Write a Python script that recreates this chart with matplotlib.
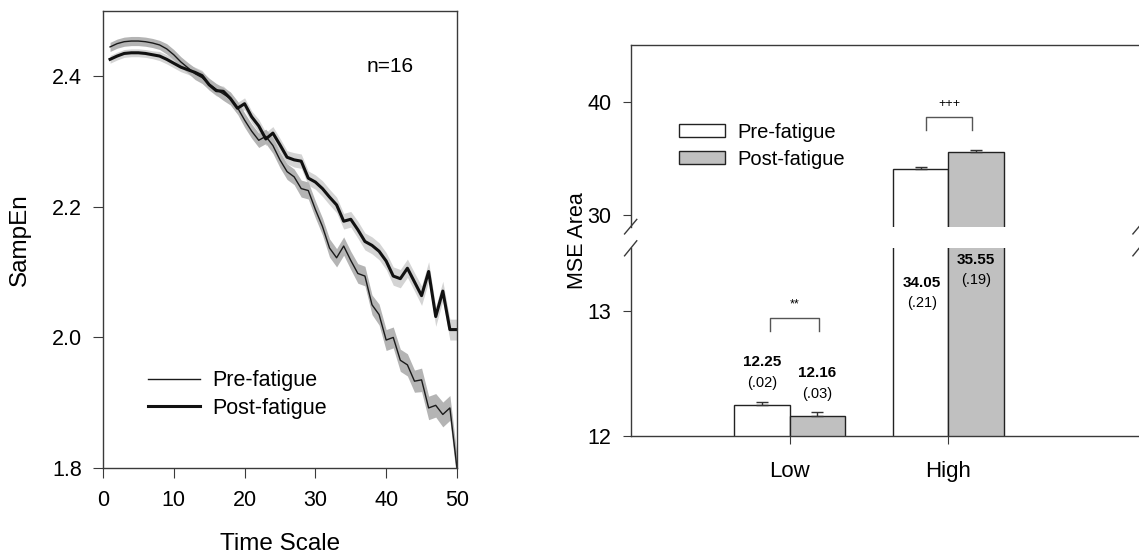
import numpy as np
import matplotlib
matplotlib.use("Agg")
import matplotlib.pyplot as plt

plt.rcParams['font.family'] = ['Liberation Sans', 'DejaVu Sans']

# ---- left panel data: SampEn vs time scale ----
time_scale = list(range(1, 51))
pre_sampen = [2.445, 2.450, 2.453, 2.454, 2.454, 2.453, 2.451, 2.448, 2.442, 2.433,
              2.422, 2.413, 2.404, 2.398, 2.388, 2.380, 2.373, 2.366, 2.352, 2.333,
              2.316, 2.302, 2.308, 2.294, 2.272, 2.254, 2.246, 2.228, 2.225, 2.196,
              2.170, 2.137, 2.122, 2.140, 2.118, 2.098, 2.094, 2.050, 2.035, 1.996,
              2.000, 1.965, 1.958, 1.933, 1.935, 1.892, 1.896, 1.882, 1.892, 1.800]
post_sampen = [2.426, 2.431, 2.435, 2.436, 2.436, 2.435, 2.433, 2.431, 2.426, 2.420,
               2.414, 2.410, 2.406, 2.401, 2.387, 2.378, 2.377, 2.366, 2.351, 2.358,
               2.338, 2.324, 2.304, 2.313, 2.295, 2.276, 2.272, 2.270, 2.244, 2.238,
               2.228, 2.215, 2.203, 2.178, 2.181, 2.165, 2.147, 2.141, 2.132, 2.117,
               2.094, 2.090, 2.106, 2.085, 2.064, 2.101, 2.032, 2.071, 2.012, 2.012]
pre_se = [0.007, 0.007, 0.007, 0.007, 0.007, 0.007, 0.007, 0.007, 0.008, 0.008,
          0.008, 0.008, 0.009, 0.009, 0.009, 0.009, 0.010, 0.010, 0.010, 0.011,
          0.011, 0.011, 0.011, 0.012, 0.012, 0.012, 0.012, 0.013, 0.013, 0.013,
          0.013, 0.014, 0.014, 0.014, 0.014, 0.015, 0.015, 0.015, 0.016, 0.016,
          0.016, 0.017, 0.017, 0.017, 0.018, 0.018, 0.018, 0.019, 0.019, 0.020]
post_se = [0.006, 0.006, 0.006, 0.006, 0.006, 0.006, 0.006, 0.007, 0.007, 0.007,
           0.007, 0.007, 0.008, 0.008, 0.008, 0.008, 0.008, 0.009, 0.009, 0.009,
           0.009, 0.010, 0.010, 0.010, 0.010, 0.010, 0.011, 0.011, 0.011, 0.011,
           0.012, 0.012, 0.012, 0.012, 0.012, 0.013, 0.013, 0.013, 0.013, 0.013,
           0.014, 0.014, 0.014, 0.014, 0.015, 0.015, 0.015, 0.015, 0.016, 0.016]

# ---- right panel data: MSE area ----
categories = ['Low', 'High']
pre_area = [12.25, 34.05]
post_area = [12.16, 35.55]
pre_area_se = [0.02, 0.21]
post_area_se = [0.03, 0.19]

spine_c = '#3a3a3a'
tick_fs = 15.5
label_fs = 17.5

fig = plt.figure(figsize=(11.39, 5.59), dpi=100)

# ================= left panel =================
ax = fig.add_axes([0.0904, 0.1628, 0.3108, 0.8175])
t = np.array(time_scale)
pre = np.array(pre_sampen)
post = np.array(post_sampen)
ax.fill_between(t, post - np.array(post_se), post + np.array(post_se),
                color='#d4d4d4', lw=0)
ax.fill_between(t, pre - np.array(pre_se), pre + np.array(pre_se),
                color='#b4b4b4', lw=0)
ax.plot(t, pre, color='#1a1a1a', lw=1.0, label='Pre-fatigue')
ax.plot(t, post, color='#111111', lw=2.2, label='Post-fatigue')
ax.set_xlim(0, 50)
ax.set_ylim(1.8, 2.5)
ax.set_xticks([0, 10, 20, 30, 40, 50])
ax.set_yticks([1.8, 2.0, 2.2, 2.4])
ax.set_yticklabels(['1.8', '2.0', '2.2', '2.4'])
for s in ax.spines.values():
    s.set_color(spine_c)
    s.set_linewidth(1.0)
ax.tick_params(axis='x', direction='out', length=7, pad=9, labelsize=tick_fs, color=spine_c)
ax.tick_params(axis='y', direction='out', length=7, pad=8, labelsize=tick_fs, color=spine_c)
ax.set_xlabel('Time Scale', fontsize=label_fs, labelpad=16)
ax.set_ylabel('SampEn', fontsize=label_fs, labelpad=15)
ax.text(0.81, 0.878, 'n=16', transform=ax.transAxes, fontsize=15,
        ha='center', va='center')
ax.legend(loc='upper left', bbox_to_anchor=(0.127, 0.214), frameon=False,
          fontsize=15.5, handlelength=2.4, handletextpad=0.6, labelspacing=0.3,
          borderpad=0, borderaxespad=0)

# ================= right panel (broken axis) =================
x = np.arange(len(categories))
w = 0.35
ax_top = fig.add_axes([0.5537, 0.5945, 0.4463, 0.3250])
ax_bot = fig.add_axes([0.5537, 0.2200, 0.4463, 0.3358])

for a in (ax_top, ax_bot):
    a.bar(x - w / 2, pre_area, w, color='white', edgecolor='#222222', lw=1.0,
          label='Pre-fatigue', zorder=2)
    a.bar(x + w / 2, post_area, w, color='#c0c0c0', edgecolor='#222222', lw=1.0,
          label='Post-fatigue', zorder=2)
    a.errorbar(x - w / 2, pre_area, yerr=[[0, 0], pre_area_se], fmt='none',
               ecolor='#333333', elinewidth=1.0, capsize=4, capthick=1.0, zorder=3)
    a.errorbar(x + w / 2, post_area, yerr=[[0, 0], post_area_se], fmt='none',
               ecolor='#333333', elinewidth=1.0, capsize=4, capthick=1.0, zorder=3)
    a.set_xlim(-1.0, 2.2)
    a.spines['right'].set_visible(False)
    for s in a.spines.values():
        s.set_color(spine_c)
        s.set_linewidth(1.0)
    a.tick_params(axis='y', direction='out', length=6, pad=8, labelsize=tick_fs,
                  color=spine_c)

ax_top.set_ylim(29, 45)
ax_top.set_yticks([30, 40])
ax_top.spines['bottom'].set_visible(False)
ax_top.tick_params(axis='x', bottom=False, labelbottom=False)

ax_bot.set_ylim(12, 13.5)
ax_bot.set_yticks([12, 13])
ax_bot.spines['top'].set_visible(False)
ax_bot.set_xticks(x)
ax_bot.set_xticklabels(categories)
ax_bot.tick_params(axis='x', direction='out', length=6, pad=12, labelsize=16,
                   color=spine_c)

# break marks
d = 0.012
for xx in (0.0, 1.0):
    ax_top.plot([xx - d, xx + d], [-0.04, 0.04], transform=ax_top.transAxes,
                color=spine_c, lw=1.0, clip_on=False)
    ax_bot.plot([xx - d, xx + d], [0.96, 1.04], transform=ax_bot.transAxes,
                color=spine_c, lw=1.0, clip_on=False)

fig.text(0.507, 0.57, 'MSE Area', rotation=90, fontsize=15.5, ha='center', va='center')

# value labels, Low group (above the bars)
for xi, m, se in ((x[0] - w / 2, pre_area[0], pre_area_se[0]),
                  (x[0] + w / 2, post_area[0], post_area_se[0])):
    ax_bot.annotate(f'{m:.2f}', (xi, m), xytext=(0, 31), textcoords='offset points',
                    ha='center', va='center', fontsize=11, fontweight='bold')
    ax_bot.annotate(f'({se:.2f})'.replace('0.', '.'), (xi, m), xytext=(0, 15.5),
                    textcoords='offset points', ha='center', va='center', fontsize=10.5)

# value labels, High group (inside the bars, lower panel)
ax_bot.text(x[1] - w / 2 + 0.01, 13.22, f'{pre_area[1]:.2f}', ha='center', va='center',
            fontsize=11, fontweight='bold')
ax_bot.text(x[1] - w / 2 + 0.01, 13.06, f'({pre_area_se[1]:.2f})'.replace('0.', '.'),
            ha='center', va='center', fontsize=10.5)
ax_bot.text(x[1] + w / 2, 13.405, f'{post_area[1]:.2f}', ha='center', va='center',
            fontsize=11, fontweight='bold')
ax_bot.text(x[1] + w / 2, 13.245, f'({post_area_se[1]:.2f})'.replace('0.', '.'),
            ha='center', va='center', fontsize=10.5)

# significance brackets
ax_bot.plot([-0.125, -0.125, 0.185, 0.185], [12.84, 12.947, 12.947, 12.84],
            color='#555555', lw=1.0)
ax_bot.text(0.03, 13.05, '**', ha='center', va='center', fontsize=9)
ax_top.plot([0.861, 0.861, 1.151, 1.151], [37.5, 38.68, 38.68, 37.5],
            color='#555555', lw=1.0)
ax_top.text(1.006, 39.8, '+++', ha='center', va='center', fontsize=9)

ax_top.legend(loc='upper left', bbox_to_anchor=(0.095, 0.573), frameon=False,
              fontsize=14.5, handlelength=2.3, handleheight=0.6, handletextpad=0.6,
              labelspacing=0.4, borderpad=0, borderaxespad=0)

fig.savefig('out.png', dpi=100)
